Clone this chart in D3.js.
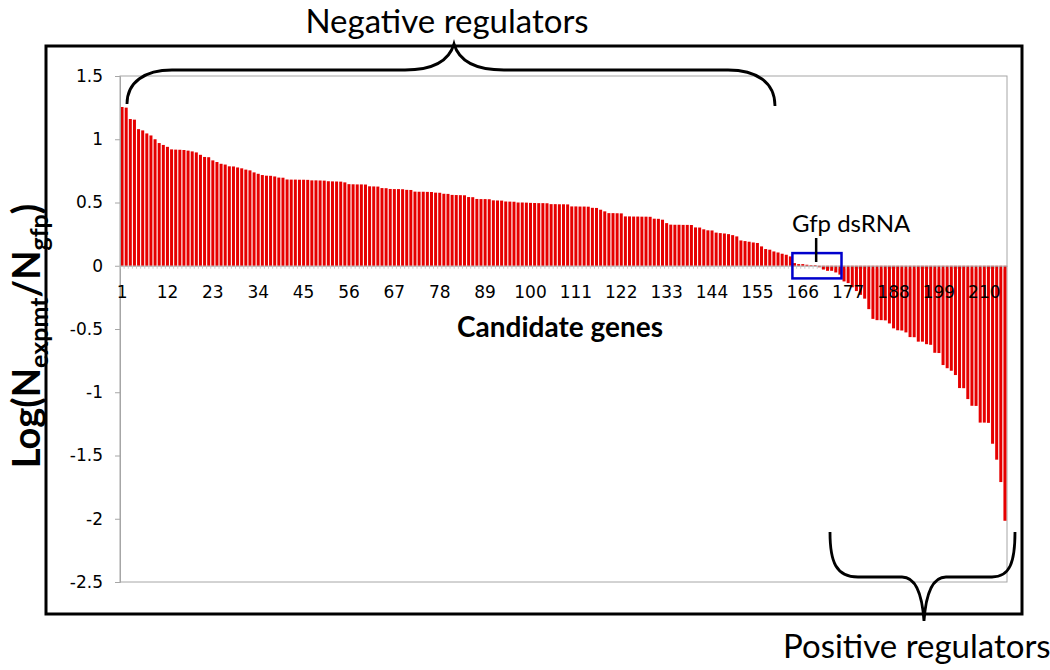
<!DOCTYPE html>
<html>
<head>
<meta charset="utf-8">
<script src="https://cdn.jsdelivr.net/npm/d3@7"></script>
<style>
  body { margin: 0; background: #fff; }
  svg { display: block; }
</style>
</head>
<body>
<div id="chart"></div>
<script>
// log ratio per candidate gene, sorted
const values = [
  1.255, 1.25, 1.16, 1.155, 1.08, 1.07, 1.046, 1.03, 1.0, 0.97,
  0.955, 0.94, 0.92, 0.918, 0.917, 0.915, 0.91, 0.904, 0.896, 0.877,
  0.86, 0.858, 0.833, 0.82, 0.806, 0.8, 0.786, 0.785, 0.777, 0.77,
  0.76, 0.754, 0.738, 0.727, 0.717, 0.712, 0.711, 0.706, 0.697, 0.696,
  0.682, 0.681, 0.681, 0.68, 0.68, 0.679, 0.675, 0.675, 0.674, 0.673,
  0.668, 0.667, 0.666, 0.665, 0.659, 0.645, 0.644, 0.643, 0.643, 0.642,
  0.628, 0.627, 0.626, 0.614, 0.613, 0.607, 0.606, 0.606, 0.605, 0.6,
  0.599, 0.586, 0.585, 0.585, 0.584, 0.583, 0.578, 0.577, 0.569, 0.568,
  0.56, 0.559, 0.558, 0.557, 0.543, 0.542, 0.528, 0.527, 0.527, 0.526,
  0.517, 0.516, 0.515, 0.508, 0.507, 0.506, 0.5, 0.5, 0.499, 0.497,
  0.496, 0.495, 0.495, 0.494, 0.487, 0.487, 0.486, 0.486, 0.485, 0.469,
  0.469, 0.468, 0.468, 0.467, 0.458, 0.457, 0.443, 0.43, 0.416, 0.416,
  0.415, 0.414, 0.39, 0.39, 0.389, 0.389, 0.388, 0.388, 0.387, 0.372,
  0.371, 0.364, 0.337, 0.325, 0.324, 0.324, 0.323, 0.323, 0.322, 0.303,
  0.302, 0.288, 0.28, 0.279, 0.262, 0.258, 0.255, 0.25, 0.242, 0.232,
  0.2, 0.195, 0.19, 0.184, 0.18, 0.153, 0.132, 0.127, 0.113, 0.105,
  0.095, 0.087, 0.074, 0.021, 0.013, 0.013, 0.008, 0.005, 0.005, -0.012,
  -0.03, -0.04, -0.04, -0.053, -0.07, -0.124, -0.137, -0.17, -0.2, -0.23,
  -0.26, -0.343, -0.42, -0.43, -0.43, -0.432, -0.456, -0.495, -0.51, -0.512,
  -0.527, -0.564, -0.565, -0.6, -0.6, -0.62, -0.625, -0.688, -0.69, -0.785,
  -0.81, -0.83, -0.864, -0.967, -0.968, -1.054, -1.107, -1.108, -1.24, -1.24,
  -1.242, -1.407, -1.533, -1.71, -2.016
];
const genes = d3.range(1, values.length + 1);
const xTickLabels = [1, 12, 23, 34, 45, 56, 67, 78, 89, 100, 111, 122, 133, 144, 155, 166, 177, 188, 199, 210];
const yTicks = [1.5, 1, 0.5, 0, -0.5, -1, -1.5, -2, -2.5];
const gfpGenes = [164, 175]; // span of the boxed gfp dsRNA controls
const gfpGene = 169;

const width = 1050, height = 670;
const plot = { left: 120, right: 1007, top: 76, bottom: 582 };
const tickFont = 'DejaVu Sans, Verdana, sans-serif';
const textFont = 'Lato, Open Sans, sans-serif';
const grey = '#a6a6a6';

const x = d3.scaleBand()
  .domain(genes)
  .range([plot.left, plot.right])
  .paddingInner(0.27)
  .paddingOuter(0.135);

const y = d3.scaleLinear()
  .domain([-2.5, 1.5])
  .range([plot.bottom, plot.top]);

const svg = d3.select('#chart').append('svg')
  .attr('width', width)
  .attr('height', height);

// plot area border
svg.append('rect')
  .attr('x', plot.left).attr('y', plot.top)
  .attr('width', plot.right - plot.left).attr('height', plot.bottom - plot.top)
  .attr('fill', 'none').attr('stroke', grey);

// bars
svg.append('g')
  .attr('fill', '#e60000')
  .selectAll('rect')
  .data(values)
  .join('rect')
  .attr('x', (d, i) => x(genes[i]))
  .attr('y', (d) => y(Math.max(0, d)))
  .attr('width', x.bandwidth())
  .attr('height', (d) => Math.abs(y(d) - y(0)));

// y axis
svg.append('g')
  .attr('transform', `translate(${plot.left},0)`)
  .call(d3.axisLeft(y).tickValues(yTicks).tickSize(5).tickPadding(12).tickFormat((d) => String(d)))
  .call((g) => g.select('.domain').attr('stroke', grey))
  .call((g) => g.selectAll('.tick line').attr('stroke', grey))
  .call((g) => g.selectAll('text').attr('font-family', tickFont).attr('font-size', 17).attr('fill', '#000'));

// zero line with a small tick between each category
svg.append('g')
  .attr('transform', `translate(0,${y(0)})`)
  .call(d3.axisBottom(x).tickValues(genes).tickSize(3).tickSizeOuter(0).tickFormat(''))
  .call((g) => g.select('.domain').attr('stroke', grey))
  .call((g) => g.selectAll('.tick line').attr('stroke', '#c8c8c8')
    .attr('x1', -x.step() / 2).attr('x2', -x.step() / 2));

// category labels, drawn over the bars
svg.append('g')
  .attr('transform', `translate(0,${y(0)})`)
  .call(d3.axisBottom(x).tickValues(xTickLabels).tickSize(0).tickPadding(20))
  .call((g) => g.select('.domain').remove())
  .call((g) => g.selectAll('text').attr('font-family', tickFont).attr('font-size', 17).attr('fill', '#000'));

// axis titles
svg.append('text')
  .attr('x', 560).attr('y', 337)
  .attr('text-anchor', 'middle')
  .attr('font-family', textFont).attr('font-weight', 'bold').attr('font-size', 28)
  .text('Candidate genes');

const yTitle = svg.append('text')
  .attr('transform', 'translate(40,336) rotate(-90)')
  .attr('text-anchor', 'middle')
  .attr('font-family', textFont).attr('font-weight', 'bold').attr('font-size', 38);
yTitle.append('tspan').text('Log(N');
yTitle.append('tspan').attr('font-size', 25).attr('dy', 8).text('expmt');
yTitle.append('tspan').attr('dy', -8).text('/N');
yTitle.append('tspan').attr('font-size', 25).attr('dy', 8).text('gfp');
yTitle.append('tspan').attr('dy', -8).text(')');

// outer frame
svg.append('rect')
  .attr('x', 46).attr('y', 46).attr('width', 976).attr('height', 568)
  .attr('fill', 'none').attr('stroke', '#000').attr('stroke-width', 3);

// braces
svg.append('path')
  .attr('d', 'M127,104 C127,82 145,70 172,70 L405,70 C432,70 449,61 454,44 C459,61 476,70 504,70 L728,70 C756,70 775,82 775,106')
  .attr('fill', 'none').attr('stroke', '#000').attr('stroke-width', 2.8);

svg.append('path')
  .attr('d', 'M830,532 C830,562 836,577 858,577 L902,577 C915,577 922,592 924,621 C926,592 933,577 946,577 L992,577 C1010,577 1015,562 1015,532')
  .attr('fill', 'none').attr('stroke', '#000').attr('stroke-width', 2.8);

svg.append('text')
  .attr('x', 447).attr('y', 33)
  .attr('text-anchor', 'middle')
  .attr('font-family', textFont).attr('font-size', 33)
  .text('Negative regulators');

svg.append('text')
  .attr('x', 783).attr('y', 658)
  .attr('font-family', textFont).attr('font-size', 33)
  .text('Positive regulators');

// gfp dsRNA control box
svg.append('rect')
  .attr('x', x(gfpGenes[0]) - x.step() * 0.15)
  .attr('y', y(0.1))
  .attr('width', x(gfpGenes[1]) + x.step() * 0.9 - x(gfpGenes[0]))
  .attr('height', y(-0.1) - y(0.1))
  .attr('fill', 'none').attr('stroke', '#0000cc').attr('stroke-width', 2.5);

const gx = x(gfpGene) + x.bandwidth() / 2 + 1;
svg.append('line')
  .attr('x1', gx).attr('x2', gx).attr('y1', 238).attr('y2', 262)
  .attr('stroke', '#000').attr('stroke-width', 2.5);

svg.append('text')
  .attr('x', 792).attr('y', 232)
  .attr('font-family', textFont).attr('font-size', 24)
  .text('Gfp dsRNA');
</script>
</body>
</html>
